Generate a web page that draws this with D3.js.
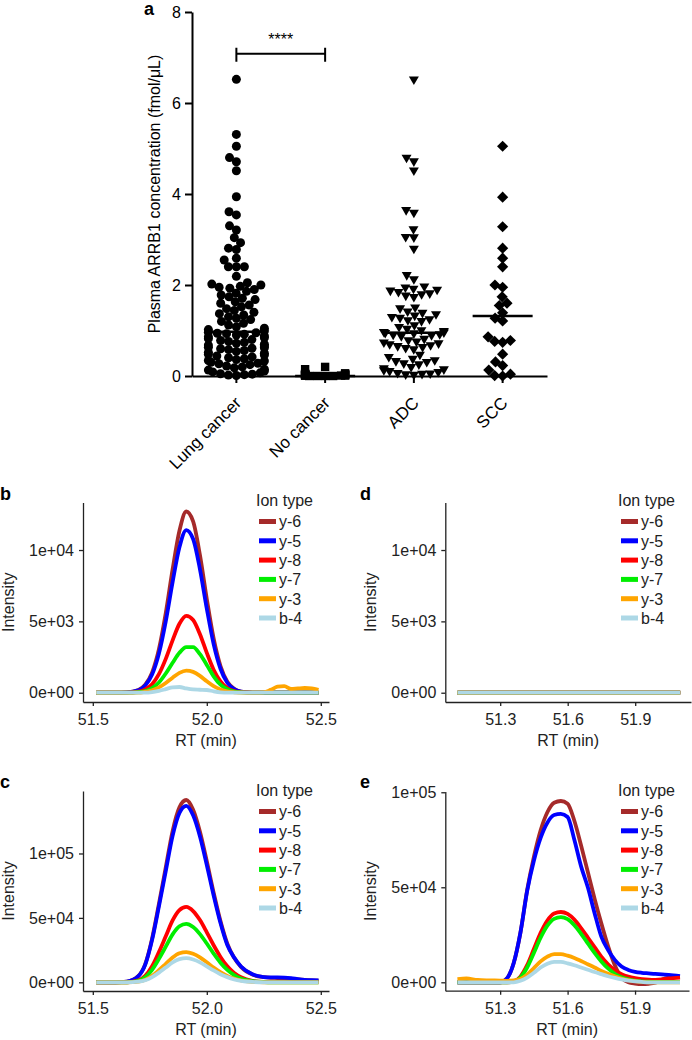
<!DOCTYPE html>
<html><head><meta charset="utf-8">
<script src="https://cdn.jsdelivr.net/npm/d3@7"></script>
<style>body{margin:0;background:#fff}</style>
</head><body><div id="chart"></div>
<script>
const FONT = '"Liberation Sans", Arial, Helvetica, sans-serif';

// ---------- Panel a data ----------
const groups = ["Lung cancer", "No cancer", "ADC", "SCC"];
const lungCancer = [6.52, 5.31, 5.05, 4.8, 4.71, 4.51, 3.94, 3.61, 3.54, 3.3, 3.21, 3.04, 2.93, 2.81, 2.78, 2.59, 2.55, 2.4, 2.4, 2.4, 2.19, 2.05, 2.02, 2.0,
  1.97, 1.95, 1.93, 1.9, 1.86, 1.82, 1.78, 1.74, 1.71, 1.68,
  1.63, 1.6, 1.56, 1.52, 1.48, 1.44, 1.4, 1.37, 1.34,
  1.3, 1.27, 1.24, 1.2, 1.16, 1.12, 1.08, 1.05, 1.02, 0.99,
  0.96, 0.95, 0.94, 0.93, 0.92, 0.9, 0.88, 0.86, 0.84, 0.82, 0.8, 0.78, 0.76, 0.74, 0.72, 0.7, 0.68, 0.66,
  0.63, 0.62, 0.61, 0.6, 0.58, 0.56, 0.54, 0.52, 0.5, 0.48, 0.46, 0.44, 0.42, 0.4, 0.38, 0.36, 0.34, 0.33,
  0.3, 0.28, 0.27, 0.25, 0.22, 0.2, 0.18, 0.15, 0.13, 0.11, 0.09, 0.07, 0.05, 0.04, 0.03, 0.02, 0.01];
const noCancer = [0.2, 0.15, 0.06, 0.05, 0.04, 0.04, 0.03, 0.03, 0.03, 0.02, 0.02, 0.02, 0.01, 0.01, 0.01, 0.01, 0, 0, 0, 0];
const adc = [6.5, 4.78, 4.7, 4.5, 3.63, 3.57, 3.21, 3.04, 3.03, 2.78, 2.2, 2.11,
  1.95, 1.93, 1.9, 1.88, 1.86, 1.83, 1.8, 1.78, 1.75, 1.72,
  1.49, 1.47, 1.4, 1.37, 1.34, 1.31, 1.28, 1.26, 1.23, 1.21, 1.19,
  1.1, 1.06, 1.02, 0.99, 0.97,
  0.95, 0.94, 0.93, 0.92, 0.9, 0.89, 0.88, 0.86,
  0.8, 0.77, 0.74, 0.72, 0.7, 0.68, 0.66, 0.64, 0.62, 0.6, 0.57,
  0.45, 0.4, 0.36, 0.33, 0.31, 0.29, 0.26, 0.24,
  0.18, 0.15, 0.13, 0.11, 0.09, 0.07, 0.05, 0.04, 0.03, 0.02, 0.01];
const scc = [5.05, 3.93, 3.28, 2.81, 2.59, 2.4, 2.0, 1.95, 1.74, 1.6, 1.55, 1.39, 1.27, 1.21, 0.86, 0.78, 0.76, 0.74, 0.48, 0.31, 0.23, 0.13, 0.04, 0.01, 0.0];
const medians = [0.97, 0.0, 0.95, 1.32];
const yTicksA = [0, 2, 4, 6, 8];
const yTitleA = "Plasma ARRB1 concentration (fmol/μL)";
const sigValue = 7.08, sigLabel = "****";

// ---------- Chromatogram data ----------
const ionTypes = ["y-6", "y-5", "y-8", "y-7", "y-3", "b-4"];
const ionColors = ["#a52a2a", "#0000ff", "#ff0000", "#00ee00", "#ffa500", "#add8e6"];

const rtBC = [51.515, 51.55, 51.6, 51.65, 51.7, 51.73, 51.76, 51.79, 51.82, 51.85, 51.88, 51.91, 51.94, 51.97, 52.0, 52.03, 52.06, 52.09, 52.12, 52.15, 52.2, 52.25, 52.28, 52.31, 52.34, 52.37, 52.4, 52.43, 52.46, 52.49];
const bY6 = [0,0,0,20,190,560,1410,3050,5580,8640,11350,12700,12000,9640,6570,3800,1870,770,270,80,10,0,0,0,0,0,0,0,0,0];
const bY5 = [0,0,0,20,170,500,1270,2740,5000,7750,10190,11400,10770,8650,5890,3410,1680,700,250,70,10,0,0,0,0,0,0,0,0,0];
const bY8 = [0,0,0,0,80,240,600,1300,2370,3670,4830,5390,5100,4100,2790,1610,790,330,120,35,0,0,0,0,0,0,0,0,0,0];
const bY7 = [0,0,0,0,40,120,330,720,1350,2100,2800,3200,3200,2700,1950,1150,560,240,80,25,0,0,0,0,0,0,0,0,0,0];
const bY3 = [0,0,0,0,0,70,170,370,680,1050,1390,1550,1460,1180,800,460,230,90,30,0,0,30,200,420,460,260,300,330,300,200];
const bB4 = [0,0,0,0,0,0,40,130,250,380,400,300,230,210,190,100,30,0,0,0,0,0,0,0,0,0,0,0,0,0];

const cY6 = [0,0,0,570,4950,14150,33960,60850,89150,117400,135800,141500,133900,116900,94000,69600,47500,30000,19000,12000,6000,4000,3500,3300,3000,2700,2200,1800,1500,1300];
const cY5 = [0,0,0,550,4800,13700,32900,58900,86300,113700,131500,137000,129600,113200,91000,67400,46000,29000,19200,12300,6200,4100,3800,3800,3700,3300,2500,1900,1600,1400];
const cY8 = [0,0,0,0,1500,5000,12500,23500,35700,48000,56000,58500,55300,48300,38800,28800,19700,12400,7200,3900,1100,300,200,200,200,150,100,100,100,100];
const cY7 = [0,0,0,0,1100,3900,9700,18200,27700,37200,43500,45300,42900,37400,30100,22300,15200,9600,5600,3000,900,200,0,0,0,0,0,0,0,0];
const cY3 = [0,0,0,0,600,2000,5000,9400,14300,19200,22500,23400,22100,19300,15500,11500,7900,5000,2900,1500,400,0,0,0,0,0,0,0,0,0];
const cB4 = [0,0,0,0,500,1600,4000,7500,11500,15400,18000,18750,17700,15500,12400,9200,6300,4000,2300,1200,300,0,0,0,0,0,0,0,0,0];

const rtD = [51.11, 52.1];
const dY6 = [0,0], dY5 = [0,0], dY8 = [0,0], dY7 = [0,0], dY3 = [0,0], dB4 = [0,0];

const rtE = [51.11, 51.15, 51.2, 51.25, 51.3, 51.33, 51.36, 51.39, 51.42, 51.45, 51.48, 51.51, 51.54, 51.57, 51.6, 51.63, 51.66, 51.69, 51.72, 51.75, 51.78, 51.81, 51.84, 51.87, 51.9, 51.93, 51.96, 51.99, 52.02, 52.05, 52.1];
const eY6 = [0,0,0,0,0,2000,10000,26000,48500,66000,80000,89500,94500,95400,94000,85000,72000,58000,44000,31000,19000,9000,2500,0,-700,-1000,-800,-200,1500,2500,3000];
const eY5 = [0,0,0,0,0,2000,10000,26000,48000,64000,76000,84000,88000,88600,87000,75000,61000,50000,36400,24000,17000,11800,8300,6500,5500,5000,4700,4400,4200,3900,3300];
const eY8 = [0,0,0,0,0,0,500,3000,9000,17500,26000,32500,36200,37000,36000,33000,28500,23500,18500,13500,9500,6500,4300,3000,2200,1700,1400,1300,1500,2000,2500];
const eY7 = [0,0,0,0,0,0,400,2500,7800,15500,23500,29800,33400,34300,33200,30000,25500,20500,15500,11000,7300,4500,2700,1600,900,500,300,200,200,200,200];
const eY3 = [1700,2000,1200,1000,900,800,1000,1800,4000,7500,11000,13500,14800,14800,14000,12800,11200,9500,7800,6000,4500,3200,2000,1200,600,200,0,0,0,0,0];
const eB4 = [0,0,0,0,0,0,0,800,2500,5000,7800,9800,10800,10700,10000,9000,7800,6600,5400,4300,3200,2300,1500,900,500,200,0,0,0,0,0];

const xTicksBC = [51.5, 52.0, 52.5];
const xTicksDE = [51.3, 51.6, 51.9];
const yTicksB = [0, 5000, 10000], yLabelsB = ["0e+00", "5e+03", "1e+04"];
const yTicksC = [0, 50000, 100000], yLabelsC = ["0e+00", "5e+04", "1e+05"];

// ---------- Drawing ----------
const svg = d3.select("#chart").append("svg").attr("width", 692).attr("height", 1040)
  .style("background", "#fff").attr("font-family", FONT);

// Panel a
const gA = svg.append("g");
const xA = d3.scaleBand().domain(groups).range([192, 547]);
const yA = d3.scaleLinear().domain([0, 8]).range([376, 12]);
const cx = g => xA(g) + xA.bandwidth() / 2;

const yAxA = gA.append("g").attr("transform", "translate(192,0)")
  .call(d3.axisLeft(yA).tickValues(yTicksA).tickSize(7).tickSizeOuter(0).tickPadding(4));
const xAxA = gA.append("g").attr("transform", "translate(0,376)")
  .call(d3.axisBottom(xA).tickSize(7).tickSizeOuter(0));
[yAxA, xAxA].forEach(a => {
  a.attr("font-family", FONT).attr("font-size", 16);
  a.select(".domain").attr("stroke", "#000").attr("stroke-width", 2);
  a.selectAll(".tick line").attr("stroke", "#000").attr("stroke-width", 2);
  a.selectAll(".tick text").attr("fill", "#000");
});
xAxA.selectAll(".tick text").remove();
groups.forEach(g => {
  gA.append("text").attr("transform", `translate(${cx(g) + 6},${404}) rotate(-45)`)
    .attr("text-anchor", "end").attr("font-size", 17).attr("fill", "#000").text(g);
});
gA.append("text").attr("transform", `translate(160,${(yA(0) + yA(8)) / 2}) rotate(-90)`)
  .attr("text-anchor", "middle").attr("font-size", 16).attr("fill", "#000").text(yTitleA);
gA.append("text").attr("x", 144).attr("y", 15).attr("font-size", 18).attr("font-weight", "bold").text("a");

function swarm(values, center, d, maxHalf) {
  const sorted = values.slice().sort((a, b) => a - b);
  const placed = [];
  for (const v of sorted) {
    const y = yA(v);
    const iv = [];
    for (const p of placed) {
      const dy = Math.abs(p.y - y);
      if (dy < d) { const w = Math.sqrt(d * d - dy * dy); iv.push([p.dx - w, p.dx + w]); }
    }
    const cands = [0];
    iv.forEach(([a, b]) => cands.push(a, b));
    cands.sort((a, b) => Math.abs(a) - Math.abs(b));
    let best = null;
    for (const c of cands) {
      if (iv.every(([a, b]) => c <= a + 1e-6 || c >= b - 1e-6)) { best = c; break; }
    }
    if (best === null) best = 0;
    best = Math.max(-maxHalf, Math.min(maxHalf, best));
    placed.push({ v, y, dx: best, x: center + best });
  }
  return placed;
}

const markerPaths = {
  circle: "M4.5,0A4.5,4.5,0,1,1,-4.5,0A4.5,4.5,0,1,1,4.5,0Z",
  square: "M-4.2,-4.2H4.2V4.2H-4.2Z",
  triangle: "M-5,-3.8L5,-3.8L0,4.8Z",
  diamond: "M0,-5.6L5.6,0L0,5.6L-5.6,0Z"
};
const groupData = [
  { name: groups[0], vals: lungCancer, shape: "circle", d: 8.0, half: 28 },
  { name: groups[1], vals: noCancer, shape: "square", d: 8.0, half: 20 },
  { name: groups[2], vals: adc, shape: "triangle", d: 8.2, half: 30 },
  { name: groups[3], vals: scc, shape: "diamond", d: 8.0, half: 30 }
];
groupData.forEach((gd, i) => {
  const pts = swarm(gd.vals, cx(gd.name), gd.d, gd.half);
  gA.append("g").selectAll("path").data(pts).join("path")
    .attr("d", markerPaths[gd.shape])
    .attr("transform", p => `translate(${p.x},${p.y})`)
    .attr("fill", "#000");
  gA.append("line").attr("x1", cx(gd.name) - 30).attr("x2", cx(gd.name) + 30)
    .attr("y1", yA(medians[i])).attr("y2", yA(medians[i]))
    .attr("stroke", "#000").attr("stroke-width", 2.5);
});
// significance bracket
const sx1 = cx(groups[0]), sx2 = cx(groups[1]), sy = yA(sigValue);
gA.append("path").attr("d", `M${sx1},${sy + 8}V${sy - 6}M${sx1},${sy}H${sx2}M${sx2},${sy + 8}V${sy - 6}`)
  .attr("stroke", "#000").attr("stroke-width", 2).attr("fill", "none");
gA.append("text").attr("x", (sx1 + sx2) / 2).attr("y", sy - 9).attr("text-anchor", "middle")
  .attr("font-size", 16).text(sigLabel);

// Chromatogram panels
function chrom(cfg) {
  const g = svg.append("g");
  const x = d3.scaleLinear().domain(cfg.xDomain).range([cfg.left, cfg.right]);
  const y = d3.scaleLinear().domain(cfg.yDomain).range([cfg.bottom, cfg.top]);
  const line = d3.line().x(d => x(d[0])).y(d => y(d[1])).curve(d3.curveMonotoneX);
  cfg.series.forEach((s, i) => {
    g.append("path").datum(cfg.rt.map((t, j) => [t, s[j]])).attr("d", line)
      .attr("fill", "none").attr("stroke", ionColors[i]).attr("stroke-width", 3.8)
      .attr("stroke-linejoin", "round").attr("stroke-linecap", "butt");
  });
  const ax = g.append("g").attr("transform", `translate(0,${cfg.bottom})`)
    .call(d3.axisBottom(x).tickValues(cfg.xTicks).tickFormat(d3.format(".1f")).tickSize(4).tickSizeOuter(0).tickPadding(8));
  const ay = g.append("g").attr("transform", `translate(${cfg.left},0)`)
    .call(d3.axisLeft(y).tickValues(cfg.yTicks).tickFormat((d, i) => cfg.yLabels[i]).tickSize(4).tickSizeOuter(0).tickPadding(5));
  [ax, ay].forEach(a => {
    a.attr("font-family", FONT).attr("font-size", 16);
    a.select(".domain").attr("stroke", "#222").attr("stroke-width", 1.3);
    a.selectAll(".tick line").attr("stroke", "#222").attr("stroke-width", 1.3);
    a.selectAll(".tick text").attr("fill", "#222");
  });
  g.append("text").attr("x", (cfg.left + cfg.right) / 2).attr("y", cfg.bottom + 44)
    .attr("text-anchor", "middle").attr("font-size", 16).attr("fill", "#222").text("RT (min)");
  g.append("text").attr("transform", `translate(${cfg.left - 69},${(cfg.top + cfg.bottom) / 2}) rotate(-90)`)
    .attr("text-anchor", "middle").attr("font-size", 16).attr("fill", "#222").text("Intensity");
  g.append("text").attr("x", cfg.labelX).attr("y", cfg.labelY).attr("font-size", 18)
    .attr("font-weight", "bold").text(cfg.label);
  // legend
  const lg = g.append("g").attr("transform", `translate(${cfg.legendX},${cfg.legendY})`);
  lg.append("text").attr("x", -3).attr("y", 0).attr("font-size", 16).attr("fill", "#222").text("Ion type");
  ionTypes.forEach((t, i) => {
    const yy = 15.5 + i * 19.3;
    lg.append("line").attr("x1", 0).attr("x2", 17).attr("y1", yy).attr("y2", yy)
      .attr("stroke", ionColors[i]).attr("stroke-width", 5);
    lg.append("text").attr("x", 20).attr("y", yy + 5.8).attr("font-size", 16).attr("fill", "#222").text(t);
  });
}

chrom({ left: 83, right: 329, top: 502.5, bottom: 702, xDomain: [51.457, 52.536], yDomain: [-650, 13330],
  xTicks: xTicksBC, yTicks: yTicksB, yLabels: yLabelsB, rt: rtBC, series: [bY6, bY5, bY8, bY7, bY3, bB4],
  label: "b", labelX: 0, labelY: 500, legendX: 259, legendY: 506 });
chrom({ left: 445.3, right: 691, top: 502.5, bottom: 702, xDomain: [51.056, 52.148], yDomain: [-650, 13330],
  xTicks: xTicksDE, yTicks: yTicksB, yLabels: yLabelsB, rt: rtD, series: [dY6, dY5, dY8, dY7, dY3, dB4],
  label: "d", labelX: 360, labelY: 500, legendX: 621, legendY: 506 });
chrom({ left: 83, right: 329, top: 791, bottom: 991, xDomain: [51.457, 52.536], yDomain: [-6750, 148500],
  xTicks: xTicksBC, yTicks: yTicksC, yLabels: yLabelsC, rt: rtBC, series: [cY6, cY5, cY8, cY7, cY3, cB4],
  label: "c", labelX: 0, labelY: 788, legendX: 259, legendY: 796 });
chrom({ left: 445.3, right: 689, top: 791.5, bottom: 990.7, xDomain: [51.056, 52.14], yDomain: [-4420, 100400],
  xTicks: xTicksDE, yTicks: yTicksC, yLabels: yLabelsC, rt: rtE, series: [eY6, eY5, eY8, eY7, eY3, eB4],
  label: "e", labelX: 360, labelY: 788, legendX: 621, legendY: 796 });
</script></body></html>
